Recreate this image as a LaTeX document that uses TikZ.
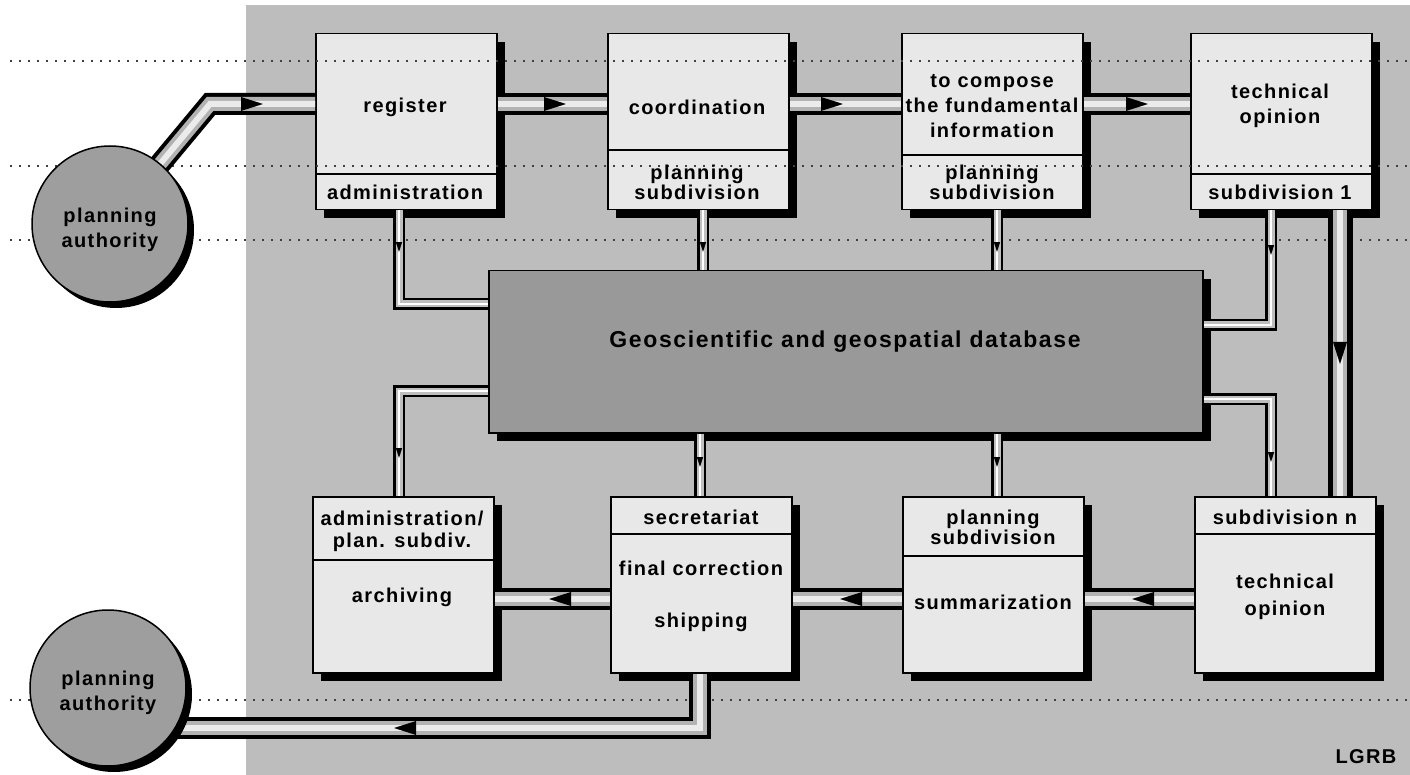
\documentclass[tikz,border=0pt]{standalone}
\usepackage{fontspec}
\setmainfont{Liberation Sans}
\newfontfamily\boxfont{Liberation Sans}[LetterSpace=7]
\usetikzlibrary{shadows}

% small dark arrowhead sitting inside a pipe: position, direction, size
\newcommand\pipetip[3]{\fill[black,shift={(#1)},rotate=#2,scale=#3] (-11,-7) -- (11,0) -- (-11,7) -- cycle;}

\tikzset{
  panel/.style={fill=black!26},
  stage/.style={rectangle, draw=black, line width=1.5pt, fill=black!9, inner sep=0pt,
    minimum width=181pt, minimum height=176pt, anchor=north west,
    drop shadow={shadow xshift=8pt, shadow yshift=-8pt, fill=black, opacity=1}},
  store/.style={rectangle, draw=black, line width=1.5pt, fill=black!40, inner sep=0pt,
    minimum width=714pt, minimum height=162pt, anchor=north west,
    drop shadow={shadow xshift=8pt, shadow yshift=-8pt, fill=black, opacity=1}},
  authority/.style={circle, draw=black, line width=1.5pt, fill=black!38, inner sep=0pt,
    minimum size=156pt,
    drop shadow={shadow xshift=6pt, shadow yshift=-6pt, fill=black, opacity=1}},
  divider/.style={draw=black, line width=1.5pt},
  guide/.style={draw=black!75, line width=1.6pt, dash pattern=on 1.6pt off 7.4pt},
  pipe/.style={draw=black, line width=22pt, line join=miter,
    postaction={draw=black!30, line width=14pt},
    postaction={draw=black!8, line width=6pt}},
  thinpipe/.style={draw=black, line width=12pt, line join=miter,
    postaction={draw=black!25, line width=7pt},
    postaction={draw=white, line width=2.5pt}},
  lbl/.style={font=\boxfont\bfseries\fontsize{20}{25}\selectfont, align=center, inner sep=0pt},
  lbltight/.style={lbl, font=\boxfont\bfseries\fontsize{20}{20}\selectfont},
  title/.style={font=\boxfont\bfseries\fontsize{23}{26}\selectfont, inner sep=0pt},
}

\begin{document}
\begin{tikzpicture}[x=1pt,y=-1pt]
\useasboundingbox (0,0) rectangle (1410,775);
\fill[white] (0,0) rectangle (1410,775);
\fill[panel] (246,5) rectangle (1410,775);

% process stages, upper row
\node[stage] (register) at (315,33) {};
\node[stage] (coord)    at (607,33) {};
\node[stage] (compose)  at (901,33) {};
\node[stage] (tech1)    at (1190,33) {};
% process stages, lower row
\node[stage] (admin)    at (312,496) {};
\node[stage] (secr)     at (610,496) {};
\node[stage] (summ)     at (902,496) {};
\node[stage] (subn)     at (1194,496) {};
% central database
\node[store] (db) at (488,270) {};

% header / body dividers
\draw[divider] (register.west |- 0,174) -- (register.east |- 0,174);
\draw[divider] (coord.west |- 0,150) -- (coord.east |- 0,150);
\draw[divider] (compose.west |- 0,155) -- (compose.east |- 0,155);
\draw[divider] (tech1.west |- 0,174) -- (tech1.east |- 0,174);
\draw[divider] (admin.west |- 0,560) -- (admin.east |- 0,560);
\draw[divider] (secr.west |- 0,534) -- (secr.east |- 0,534);
\draw[divider] (summ.west |- 0,556) -- (summ.east |- 0,556);
\draw[divider] (subn.west |- 0,534) -- (subn.east |- 0,534);

% dotted guide lines
\foreach \gy in {61,166,240,700} \draw[guide] (10,\gy) -- (1410,\gy);

% planning authorities, with their pipes running in from the centre
\coordinate (pa1c) at (110,224);
\coordinate (pa2c) at (108,688);
\draw[pipe] (pa1c) -- (210,104) -- (register.west |- 0,104);
\draw[pipe] (secr.south -| 700,0) -- (700,728) -- (pa2c |- 0,728);
\node[authority] (pa1) at (pa1c) {};
\node[authority] (pa2) at (pa2c) {};
\pipetip{252,104}{0}{1}
\pipetip{405,728}{180}{1}

% upper flow
\draw[pipe] (register.east |- 0,104) -- (coord.west |- 0,104);
\draw[pipe] (coord.east |- 0,104) -- (compose.west |- 0,104);
\draw[pipe] (compose.east |- 0,104) -- (tech1.west |- 0,104);
\pipetip{555,104}{0}{1}
\pipetip{832,104}{0}{1}
\pipetip{1137,104}{0}{1}

% down to the second technical opinion
\draw[pipe, line width=25pt] (tech1.south -| 1340,0) -- (subn.north -| 1340,0);
\pipetip{1340,353}{-90}{1}

% lower flow
\draw[pipe] (subn.west |- 0,599) -- (summ.east |- 0,599);
\draw[pipe] (summ.west |- 0,599) -- (secr.east |- 0,599);
\draw[pipe] (secr.west |- 0,599) -- (admin.east |- 0,599);
\pipetip{1143,599}{180}{1}
\pipetip{851,599}{180}{1}
\pipetip{560,599}{180}{1}

% database links
\draw[thinpipe] (register.south -| 399,0) -- (399,304) -- (db.west |- 0,304);
\draw[thinpipe] (coord.south -| 703,0) -- (db.north -| 703,0);
\draw[thinpipe] (compose.south -| 997,0) -- (db.north -| 997,0);
\draw[thinpipe] (tech1.south -| 1271,0) -- (1271,325) -- (db.east |- 0,325);
\draw[thinpipe] (db.west |- 0,391) -- (399,391) -- (admin.north -| 399,0);
\draw[thinpipe] (db.south -| 700,0) -- (secr.north -| 700,0);
\draw[thinpipe] (db.south -| 997,0) -- (summ.north -| 997,0);
\draw[thinpipe] (db.east |- 0,399) -- (1271,399) -- (subn.north -| 1271,0);
\pipetip{399,247}{-90}{0.45}
\pipetip{703,247}{-90}{0.45}
\pipetip{997,247}{-90}{0.45}
\pipetip{1271,250}{-90}{0.45}
\pipetip{399,453}{-90}{0.45}
\pipetip{700,462}{-90}{0.45}
\pipetip{997,462}{-90}{0.45}
\pipetip{1271,457}{-90}{0.45}

% texts
\node[lbl] (pa1-t) at (110,230) {planning\\authority};
\node[lbl] (pa2-t) at (108,693) {planning\\authority};

\node[lbl] (register-t) at (405,107) {register};
\node[lbl] (register-h) at (405,192) {administration};
\node[lbl] (coord-t) at (697,107) {coordination};
\node[lbltight] (coord-h) at (697,182) {planning\\subdivision};
\node[lbl] (compose-t) at (992,106) {to compose\\the fundamental\\information};
\node[lbltight] (compose-h) at (992,182) {planning\\subdivision};
\node[lbl] (tech1-t) at (1280,106) {technical\\opinion};
\node[lbl] (tech1-h) at (1280,192) {subdivision 1};

\node[lbltight,font=\boxfont\bfseries\fontsize{20}{22}\selectfont] (admin-h) at (402,531) {administration/\\plan. subdiv.};
\node[lbl] (admin-t) at (402,597) {archiving};
\node[lbl] (secr-h) at (701,517) {secretariat};
\node[lbl] (secr-t1) at (701,568) {final correction};
\node[lbl] (secr-t2) at (701,622) {shipping};
\node[lbltight] (summ-h) at (993,527) {planning\\subdivision};
\node[lbl] (summ-t) at (993,602) {summarization};
\node[lbl] (subn-h) at (1285,517) {subdivision n};
\node[lbl,font=\boxfont\bfseries\fontsize{20}{27}\selectfont] (subn-t) at (1285,597) {technical\\opinion};

\node[title] (db-t) at (845,342) {Geoscientific and geospatial database};
\node[lbl] (mark) at (1366,757) {LGRB};
\end{tikzpicture}
\end{document}
